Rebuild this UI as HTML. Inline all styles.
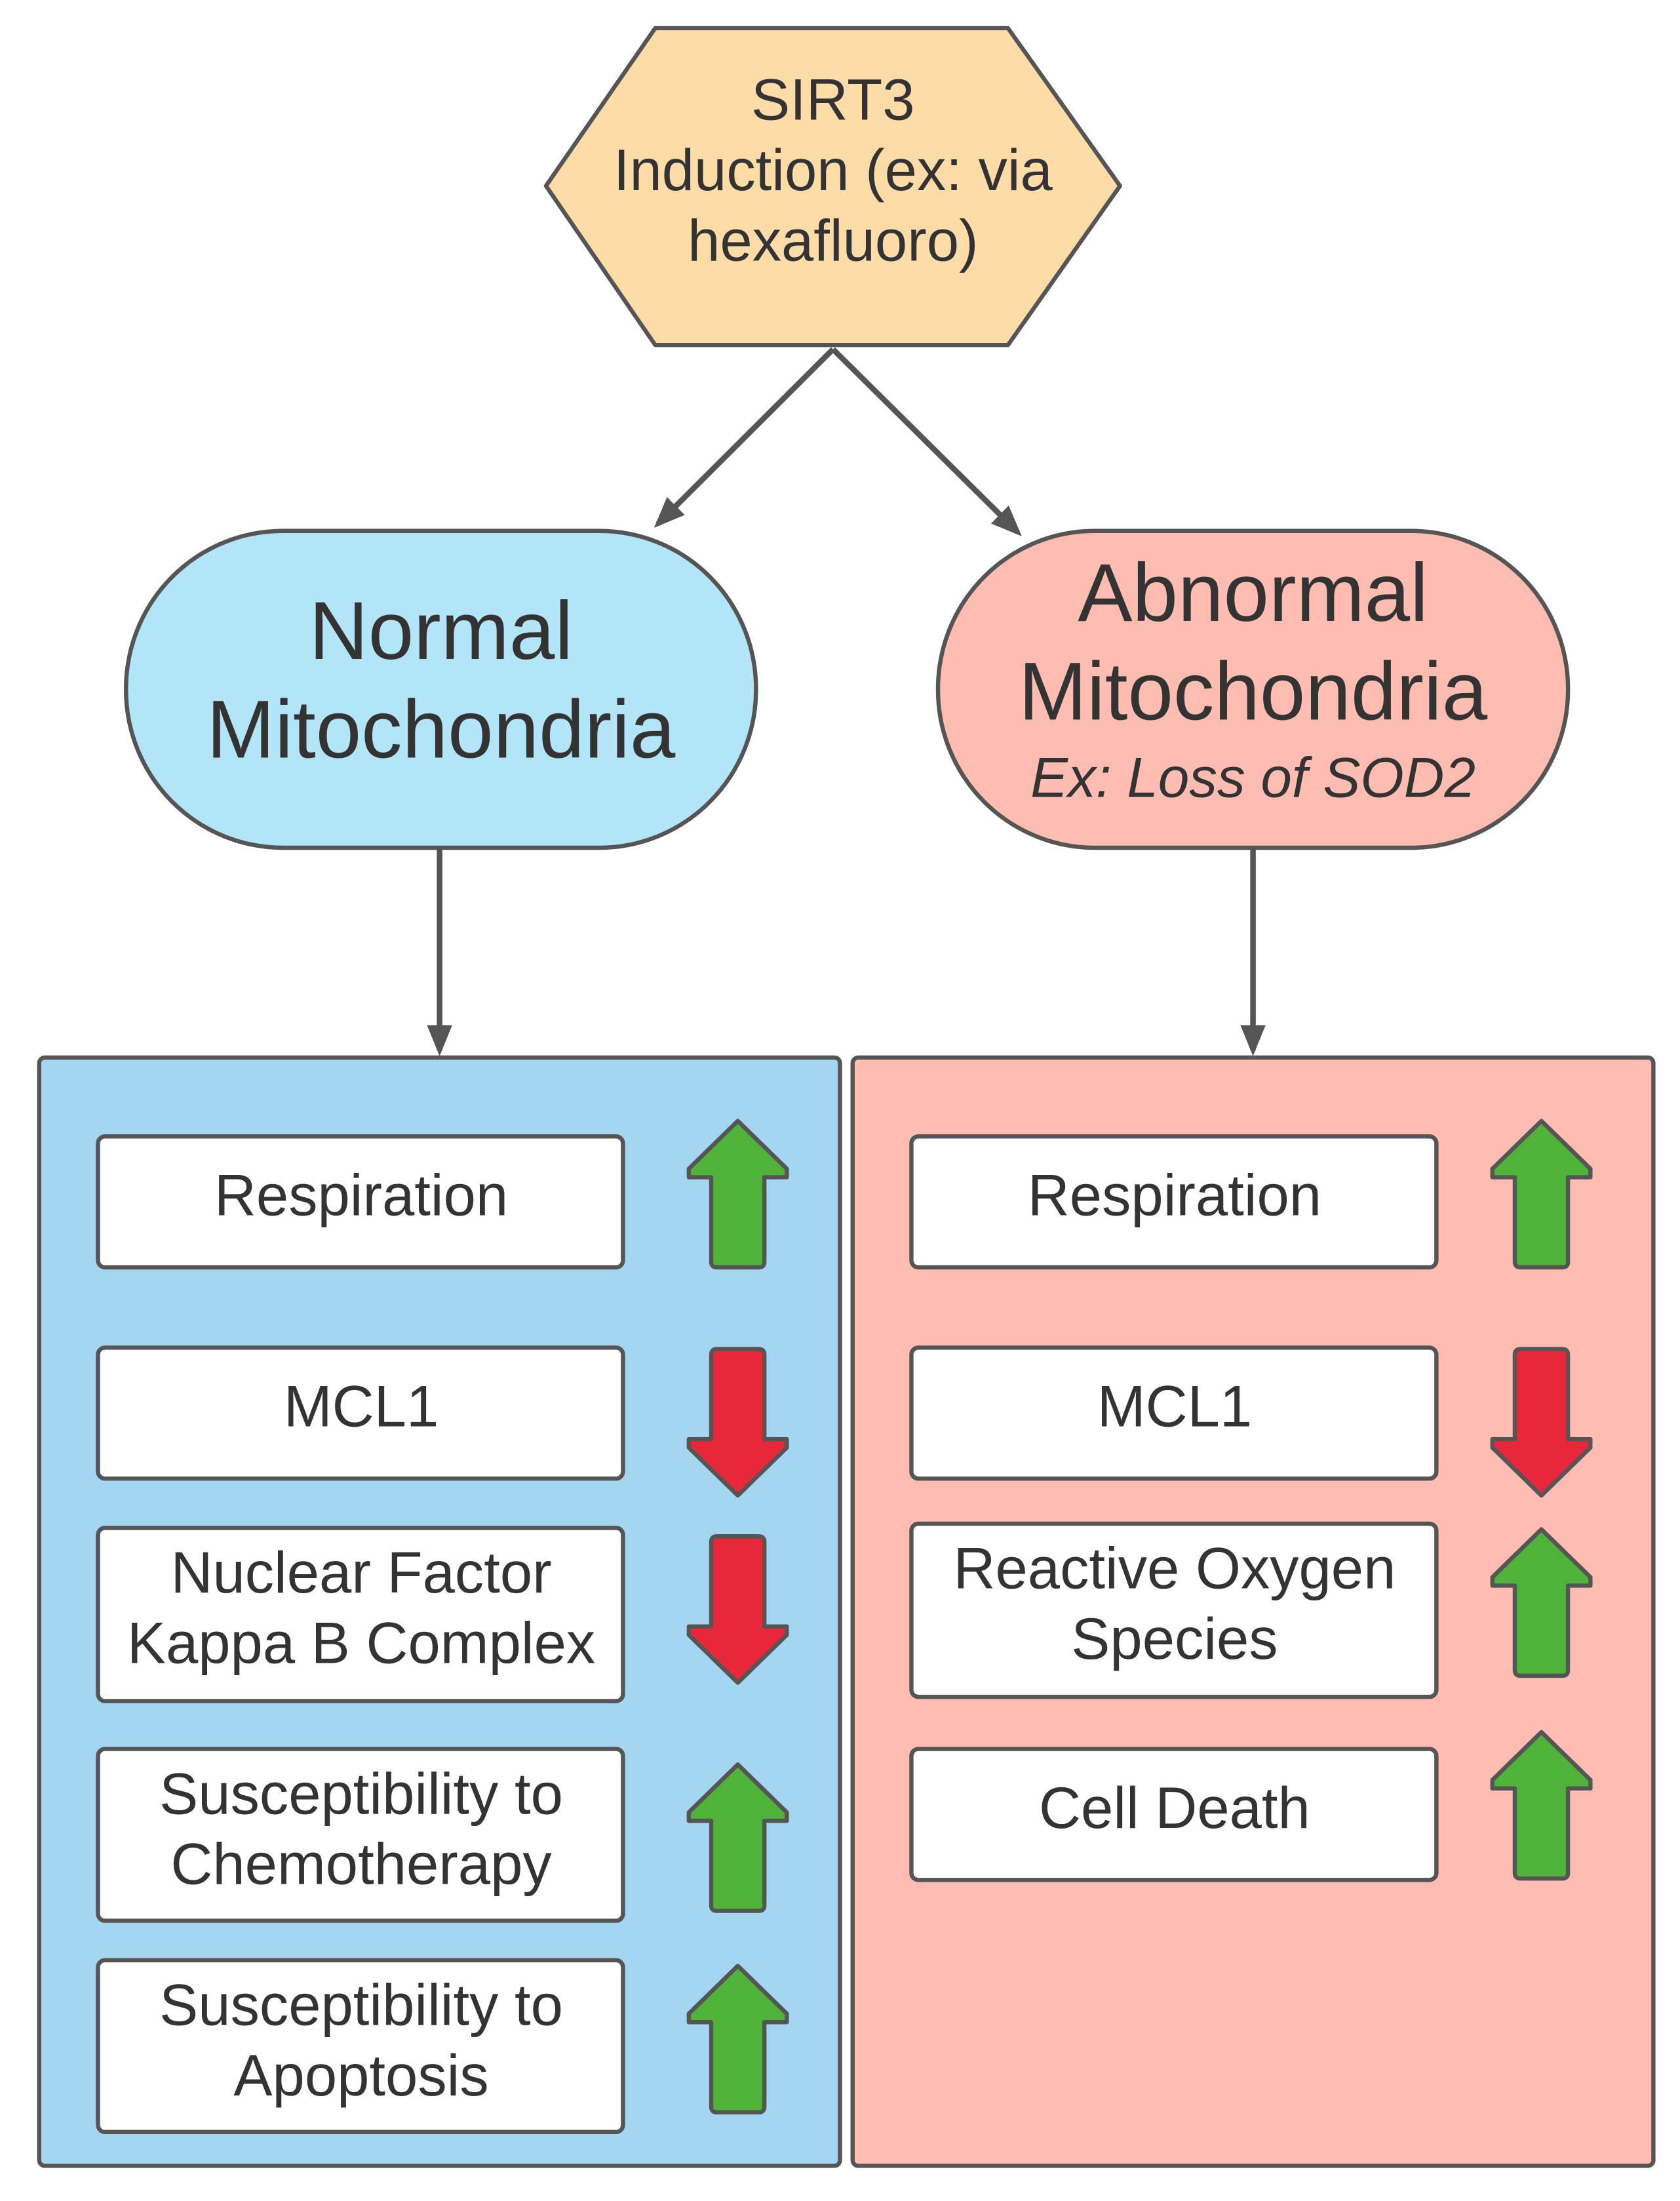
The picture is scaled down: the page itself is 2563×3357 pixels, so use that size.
<!DOCTYPE html>
<html><head><meta charset="utf-8"><style>
html,body{margin:0;padding:0;background:#fff;}
svg{display:block;}
text{font-family:"Liberation Sans",sans-serif;fill:#333;text-anchor:middle;}
</style></head><body>
<svg width="2563" height="3357" viewBox="0 0 1200 1563" preserveAspectRatio="none" xmlns="http://www.w3.org/2000/svg">
<defs>
<marker id="ah" markerWidth="22" markerHeight="22" refX="18" refY="11" orient="auto" markerUnits="userSpaceOnUse" viewBox="0 0 22 22">
<path d="M0,2 L22,11 L0,20 z" fill="#555"/>
</marker>
<symbol id="up" viewBox="0 0 74 108" overflow="visible">
<path d="M37,2 L72,36 L72,42 L56,42 L56,102 Q56,106 52,106 L22,106 Q18,106 18,102 L18,42 L2,42 L2,36 Z" fill="#4fb33a" stroke="#555" stroke-width="3" stroke-linejoin="round"/>
</symbol>
<symbol id="down" viewBox="0 0 74 108" overflow="visible">
<path d="M37,106 L72,72 L72,66 L56,66 L56,6 Q56,2 52,2 L22,2 Q18,2 18,6 L18,66 L2,66 L2,72 Z" fill="#e8283a" stroke="#555" stroke-width="3" stroke-linejoin="round"/>
</symbol>
</defs>
<rect width="1200" height="1563" fill="#fff"/>
<path d="M390,132 L468,20 L720,20 L800,132 L720,245 L468,245 Z" fill="#fedca8" stroke="#555" stroke-width="3" stroke-linejoin="round"/>
<text x="595" y="85" font-size="41.5">SIRT3</text>
<text x="595" y="135" font-size="41.5">Induction (ex: via</text>
<text x="595" y="185" font-size="41.5">hexafluoro)</text>
<line x1="595" y1="248" x2="470" y2="372" stroke="#555" stroke-width="4" marker-end="url(#ah)"/>
<line x1="595" y1="248" x2="727" y2="378" stroke="#555" stroke-width="4" marker-end="url(#ah)"/>
<line x1="314" y1="602" x2="314" y2="746" stroke="#555" stroke-width="4" marker-end="url(#ah)"/>
<line x1="895" y1="602" x2="895" y2="746" stroke="#555" stroke-width="4" marker-end="url(#ah)"/>
<rect x="90" y="377" width="450" height="225" rx="112" ry="112" fill="#b3e5f8" stroke="#555" stroke-width="3"/>
<text x="315" y="468" font-size="58.5">Normal</text>
<text x="315" y="538" font-size="58.5">Mitochondria</text>
<rect x="670" y="377" width="450" height="225" rx="112" ry="112" fill="#ffbcb0" stroke="#555" stroke-width="3"/>
<text x="895" y="441" font-size="58.5">Abnormal</text>
<text x="895" y="511" font-size="58.5">Mitochondria</text>
<text x="895" y="566" font-size="40" font-style="italic">Ex: Loss of SOD2</text>
<rect x="28" y="751" width="572" height="787" rx="4" fill="#a5d6f1" stroke="#555" stroke-width="3"/>
<rect x="609" y="751" width="572" height="787" rx="4" fill="#ffbcb0" stroke="#555" stroke-width="3"/>
<g fill="#fff" stroke="#555" stroke-width="3">
<rect x="70" y="807" width="375" height="93" rx="5"/>
<rect x="70" y="957" width="375" height="93" rx="5"/>
<rect x="70" y="1085" width="375" height="123" rx="5"/>
<rect x="70" y="1242" width="375" height="122" rx="5"/>
<rect x="70" y="1392" width="375" height="122" rx="5"/>
<rect x="651" y="807" width="375" height="93" rx="5"/>
<rect x="651" y="957" width="375" height="93" rx="5"/>
<rect x="651" y="1082" width="375" height="123" rx="5"/>
<rect x="651" y="1242" width="375" height="93" rx="5"/>
</g>
<g font-size="41.5">
<text x="258" y="863">Respiration</text>
<text x="258" y="1013">MCL1</text>
<text x="258" y="1131">Nuclear Factor</text>
<text x="258" y="1181">Kappa B Complex</text>
<text x="258" y="1288">Susceptibility to</text>
<text x="258" y="1338">Chemotherapy</text>
<text x="258" y="1438">Susceptibility to</text>
<text x="258" y="1488">Apoptosis</text>
<text x="839" y="863">Respiration</text>
<text x="839" y="1013">MCL1</text>
<text x="839" y="1128">Reactive Oxygen</text>
<text x="839" y="1178">Species</text>
<text x="839" y="1298">Cell Death</text>
</g>
<use href="#up" x="490" y="794" width="74" height="108"/>
<use href="#down" x="490" y="956" width="74" height="108"/>
<use href="#down" x="490" y="1089" width="74" height="108"/>
<use href="#up" x="490" y="1251" width="74" height="108"/>
<use href="#up" x="490" y="1394" width="74" height="108"/>
<use href="#up" x="1064" y="794" width="74" height="108"/>
<use href="#down" x="1064" y="956" width="74" height="108"/>
<use href="#up" x="1064" y="1084" width="74" height="108"/>
<use href="#up" x="1064" y="1228" width="74" height="108"/>
</svg>
</body></html>
